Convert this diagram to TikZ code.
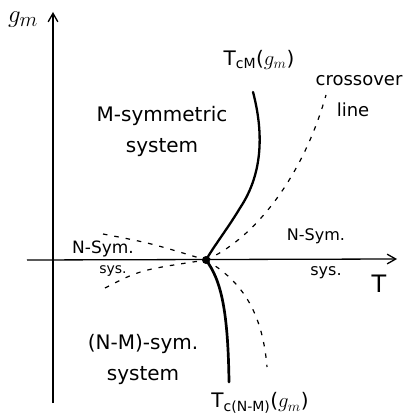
\documentclass[tikz,border=0pt]{standalone}
\usepackage{fontspec}
\setsansfont{DejaVu Sans}
\usetikzlibrary{arrows.meta}
\tikzset{
  axis line/.style={-{Straight Barb[length=3mm,width=3.4mm]}, line width=1.3pt},
  phase line/.style={line width=2.3pt, line cap=round},
  cross line/.style={dash pattern=on 4.5pt off 7pt, line width=1.2pt},
  region label/.style={font=\sffamily\fontsize{20}{31}\selectfont, align=center, inner sep=0pt},
  small label/.style={font=\sffamily\fontsize{17}{20}\selectfont, align=center, inner sep=0pt},
  tiny label/.style={font=\sffamily\fontsize{14}{16}\selectfont, align=center, inner sep=0pt},
  axis label/.style={font=\fontsize{24}{26}\selectfont, inner sep=0pt},
}

\begin{document}
\begin{tikzpicture}[x=1pt, y=-1pt]
  \useasboundingbox (0,0) rectangle (408,419);

  % Axes.
  \coordinate (gBottom) at (53,403);
  \coordinate (gTop) at (53,12);
  \coordinate (tLeft) at (27,260);
  \coordinate (tRight) at (397,259);
  \draw[axis line] (gBottom) -- (gTop);
  \draw[axis line] (tLeft) -- (tRight);

  % Multicritical point and curve ends.
  \coordinate (crit) at (206,260);
  \coordinate (cmTop) at (253,92);
  \coordinate (cnmBottom) at (229,382);
  \coordinate (crossTop) at (326,95);
  \coordinate (crossBottom) at (267,367);
  \coordinate (leftUpper) at (103,234);
  \coordinate (leftLower) at (105,288);

  % Phase boundaries.
  \draw[phase line] (cmTop) .. controls (263,130) and (264,172) .. (240,208)
    .. controls (228,228) and (214,246) .. (crit);
  \draw[phase line, line width=2.7pt] (crit) .. controls (221,280) and (228,310) .. (cnmBottom);

  % Crossover lines.
  \draw[cross line] (crit) .. controls (252,240) and (302,180) .. (crossTop);
  \draw[cross line] (crit) .. controls (236,278) and (262,305) .. (crossBottom);
  \draw[cross line] (leftUpper) .. controls (150,243) .. (crit);
  \draw[cross line] (leftLower) .. controls (140,270) .. (crit);
  \fill (crit) circle (4pt);

  % Labels.
  \node[axis label, font=\fontsize{30}{32}\selectfont] (gLabel) at (23,20) {$g_m$};
  \node[axis label] (tLabel) at (379,284) {\sffamily T};
  \node[small label, font=\sffamily\fontsize{20}{22}\selectfont] (cmLabel) at (259,60) {T\textsubscript{cM}($g_m$)};
  \node[small label, font=\sffamily\fontsize{18}{20}\selectfont] (crossLabel) at (359,81) {crossover};
  \node[small label, font=\sffamily\fontsize{18}{20}\selectfont] (lineLabel) at (353,110) {line};
  \node[region label] (mSystem) at (162,131) {M-symmetric\\system};
  \node[small label] (nSymLeft) at (103,249) {N-Sym.};
  \node[tiny label] (sysLeft) at (113,271) {sys.};
  \node[small label, font=\sffamily\fontsize{16}{18}\selectfont] (nSymRight) at (316,236) {N-Sym.};
  \node[small label, font=\sffamily\fontsize{16}{18}\selectfont] (sysRight) at (326,273) {sys.};
  \node[region label] (nmSystem) at (143,359) {(N-M)-sym.\\system};
  \node[small label, font=\sffamily\fontsize{20}{22}\selectfont] (cnmLabel) at (260,403) {T\textsubscript{c(N-M)}($g_m$)};
\end{tikzpicture}
\end{document}
